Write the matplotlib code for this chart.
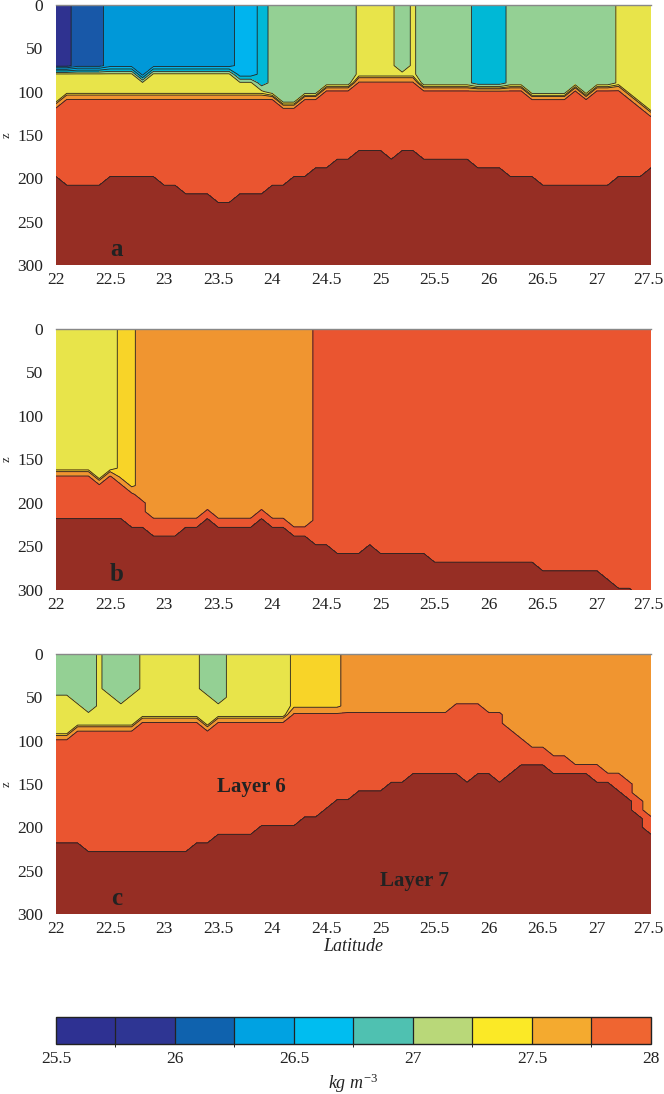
import numpy as np
import matplotlib
matplotlib.use('Agg')
import matplotlib.pyplot as plt
from matplotlib.colors import ListedColormap, BoundaryNorm
from matplotlib.colorbar import ColorbarBase

plt.rcParams['font.family'] = 'Liberation Serif'
plt.rcParams['mathtext.fontset'] = 'custom'
plt.rcParams['mathtext.rm'] = 'Liberation Serif'
plt.rcParams['mathtext.it'] = 'Liberation Serif:italic'

# density values of the water masses seen in the sections
DB, MB, BL, SK, TE = 25.9, 26.15, 26.4, 26.6, 26.85
GR, YE, GO, OR, RD, DR = 27.1, 27.3, 27.45, 27.6, 27.8, 28.05

lat = np.round(np.arange(22.0, 27.55, 0.1), 1)   # 56 columns
depth = np.arange(0, 301, 10)
xtick_labels = ['22', '22.5', '23', '23.5', '24', '24.5', '25', '25.5',
                '26', '26.5', '27', '27.5']

# panel a : top layer (s1 down to d1), second layer (s2 down to d2),
# layer 6 down to d3, layer 7 below
a_s1 = [DB, DB, MB, MB, MB, BL, BL, BL, BL, BL,
        BL, BL, BL, BL, BL, BL, BL, SK, SK, TE,
        GR, GR, GR, GR, GR, GR, GR, GR, YE, YE,
        YE, YE, GR, YE, GR, GR, GR, GR, GR, TE,
        TE, TE, GR, GR, GR, GR, GR, GR, GR, GR,
        GR, GR, YE, YE, YE, YE]
a_d1 = [70, 70, 70, 70, 70, 70, 70, 70, 80, 70,
        70, 70, 70, 70, 70, 70, 70, 80, 80, 90,
        100, 110, 110, 100, 100, 90, 90, 90, 80, 80,
        80, 80, 70, 80, 90, 90, 90, 90, 90, 90,
        90, 90, 90, 90, 100, 100, 100, 100, 90, 100,
        90, 90, 90, 100, 110, 120]
a_s2 = [YE, YE, YE, YE, YE, YE, YE, YE, YE, YE,
        YE, YE, YE, YE, YE, YE, YE, YE, YE, YE,
        GR, GR, GR, GR, GR, GR, GR, GR, YE, YE,
        YE, YE, YE, YE, GR, GR, GR, GR, GR, TE,
        TE, TE, GR, GR, GR, GR, GR, GR, GR, GR,
        GR, GR, YE, YE, YE, YE]
a_d2 = [110, 100, 100, 100, 100, 100, 100, 100, 100, 100,
        100, 100, 100, 100, 100, 100, 100, 100, 100, 100,
        100, 110, 110, 100, 100, 90, 90, 90, 80, 80,
        80, 80, 80, 80, 90, 90, 90, 90, 90, 90,
        90, 90, 90, 90, 100, 100, 100, 100, 90, 100,
        90, 90, 90, 100, 110, 120]
a_d3 = [190, 200, 200, 200, 200, 190, 190, 190, 190, 190,
        200, 200, 210, 210, 210, 220, 220, 210, 210, 210,
        200, 200, 190, 190, 180, 180, 170, 170, 160, 160,
        160, 170, 160, 160, 170, 170, 170, 170, 170, 180,
        180, 180, 190, 190, 190, 200, 200, 200, 200, 200,
        200, 200, 190, 190, 190, 180]

# panel b
b_s1 = [YE, YE, YE, YE, YE, YE, GO, GO, OR, OR,
        OR, OR, OR, OR, OR, OR, OR, OR, OR, OR,
        OR, OR, OR, OR, RD, RD, RD, RD, RD, RD,
        RD, RD, RD, RD, RD, RD, RD, RD, RD, RD,
        RD, RD, RD, RD, RD, RD, RD, RD, RD, RD,
        RD, RD, RD, RD, RD, RD]
b_d1 = [160, 160, 160, 160, 170, 160, 170, 180, 190, 210,
        210, 210, 210, 210, 200, 210, 210, 210, 210, 200,
        210, 210, 220, 220, 0, 0, 0, 0, 0, 0,
        0, 0, 0, 0, 0, 0, 0, 0, 0, 0,
        0, 0, 0, 0, 0, 0, 0, 0, 0, 0,
        0, 0, 0, 0, 0, 0]
b_s2 = b_s1
b_d2 = b_d1
b_d3 = [210, 210, 210, 210, 210, 210, 210, 220, 220, 230,
        230, 230, 220, 220, 210, 220, 220, 220, 220, 210,
        220, 220, 230, 230, 240, 240, 250, 250, 250, 240,
        250, 250, 250, 250, 250, 260, 260, 260, 260, 260,
        260, 260, 260, 260, 260, 270, 270, 270, 270, 270,
        270, 280, 290, 290, 300, 300]

# panel c
c_s1 = [GR, GR, GR, GR, YE, GR, GR, GR, YE, YE,
        YE, YE, YE, YE, GR, GR, YE, YE, YE, YE,
        YE, YE, GO, GO, GO, GO, GO, OR, OR, OR,
        OR, OR, OR, OR, OR, OR, OR, OR, OR, OR,
        OR, OR, OR, OR, OR, OR, OR, OR, OR, OR,
        OR, OR, OR, OR, OR, OR]
c_d1 = [40, 40, 50, 60, 80, 40, 50, 40, 70, 70,
        70, 70, 70, 70, 40, 50, 70, 70, 70, 70,
        70, 70, 60, 60, 60, 60, 60, 60, 60, 60,
        60, 60, 60, 60, 60, 60, 60, 50, 50, 50,
        60, 60, 80, 90, 100, 100, 110, 110, 120, 120,
        120, 130, 130, 140, 160, 180]
c_s2 = [YE, YE, YE, YE, YE, YE, YE, YE, YE, YE,
        YE, YE, YE, YE, YE, YE, YE, YE, YE, YE,
        YE, YE, GO, GO, GO, GO, GO, OR, OR, OR,
        OR, OR, OR, OR, OR, OR, OR, OR, OR, OR,
        OR, OR, OR, OR, OR, OR, OR, OR, OR, OR,
        OR, OR, OR, OR, OR, OR]
c_d2 = [90, 90, 80, 80, 80, 80, 80, 80, 70, 70,
        70, 70, 70, 70, 80, 70, 70, 70, 70, 70,
        70, 70, 60, 60, 60, 60, 60, 60, 60, 60,
        60, 60, 60, 60, 60, 60, 60, 50, 50, 50,
        60, 60, 80, 90, 100, 100, 110, 110, 120, 120,
        120, 130, 130, 140, 160, 180]
c_d3 = [210, 210, 210, 220, 220, 220, 220, 220, 220, 220,
        220, 220, 220, 210, 210, 200, 200, 200, 200, 190,
        190, 190, 190, 180, 180, 170, 160, 160, 150, 150,
        150, 140, 140, 130, 130, 130, 130, 130, 140, 130,
        130, 140, 130, 120, 120, 120, 130, 130, 130, 130,
        140, 140, 150, 160, 180, 200]

levels = [25.5, 25.75, 26.0, 26.25, 26.5, 26.75, 27.0, 27.25, 27.4, 27.5, 27.75, 28.0, 28.5]
fill_colors = ['#30318f', '#2f3290', '#1858a8', '#0098d8', '#00b4ee', '#00b8d6',
               '#94d094', '#e8e44a', '#f8d428', '#f09530', '#ea5530', '#962e24']

cb_bounds = [25.5, 25.75, 26.0, 26.25, 26.5, 26.75, 27.0, 27.25, 27.5, 27.75, 28.0]
cb_colors = ['#2e3192', '#2e3593', '#0f62ae', '#00a2e2', '#00bdf0', '#4fc1b1',
             '#b9d879', '#fbe926', '#f4aa2f', '#ef6531']


def section(s1, d1, s2, d2, d3):
    rho = np.zeros((len(depth), len(lat)))
    for j in range(len(lat)):
        for i, z in enumerate(depth):
            if z <= d1[j]:
                rho[i, j] = s1[j]
            elif z <= d2[j]:
                rho[i, j] = s2[j]
            elif z <= d3[j]:
                rho[i, j] = RD
            else:
                rho[i, j] = DR
    return rho


fig = plt.figure(figsize=(6.64, 10.94), dpi=100)
boxes = [[0.0843, 0.7578, 0.8961, 0.2377],
         [0.0843, 0.4607, 0.8961, 0.2386],
         [0.0843, 0.1645, 0.8961, 0.2377]]
panels = [(a_s1, a_d1, a_s2, a_d2, a_d3, 'a'),
          (b_s1, b_d1, b_s2, b_d2, b_d3, 'b'),
          (c_s1, c_d1, c_s2, c_d2, c_d3, 'c')]

xt = np.arange(22, 27.51, 0.5)
for box, (s1, d1, s2, d2, d3, tag) in zip(boxes, panels):
    ax = fig.add_axes(box)
    rho = section(s1, d1, s2, d2, d3)
    ax.contourf(lat, depth, rho, levels=levels, colors=fill_colors)
    ax.contour(lat, depth, rho, levels=levels[1:-1], colors='#222222', linewidths=0.6)
    ax.set_xlim(22, 27.5)
    ax.set_ylim(300, 0)
    ax.set_xticks(xt)
    # last label is drawn by hand, nudged so it stays inside the figure
    ax.set_xticklabels(xtick_labels[:-1] + [''])
    ax.annotate(xtick_labels[-1], xy=(xt[-1], 0), xycoords=('data', 'axes fraction'),
                xytext=(-2, -5), textcoords='offset points', ha='center', va='top',
                fontsize=12.5, color='#222222')
    ax.set_yticks(np.arange(0, 301, 50))
    ax.tick_params(axis='both', length=0, labelsize=12.5, colors='#222222')
    ax.tick_params(axis='y', pad=9)
    ax.tick_params(axis='x', pad=5)
    for side in ['left', 'right', 'bottom']:
        ax.spines[side].set_visible(False)
    ax.spines['top'].set_color('#888888')
    ax.spines['top'].set_linewidth(1.0)
    ax.text(22.56, 290, tag, fontsize=18, fontweight='bold', ha='center',
            va='baseline', color='#222222')
    fig.text(6.5 / 664, box[1] + box[3] / 2, 'z', rotation=90, fontsize=9,
             ha='center', va='center', color='#222222')
    if tag == 'c':
        ax.text(23.81, 159, 'Layer 6', fontsize=15, fontweight='bold',
                ha='center', va='baseline', color='#222222')
        ax.text(25.31, 268, 'Layer 7', fontsize=15, fontweight='bold',
                ha='center', va='baseline', color='#222222')
        ax.set_xlabel('Latitude', fontsize=13, style='italic', labelpad=1,
                      color='#222222')

cax = fig.add_axes([0.0843, 1 - 1044 / 1094, 0.8961, 27 / 1094])
cb = ColorbarBase(cax, cmap=ListedColormap(cb_colors),
                  norm=BoundaryNorm(cb_bounds, len(cb_colors)),
                  orientation='horizontal', drawedges=True,
                  ticks=[25.5, 26.0, 26.5, 27.0, 27.5, 28.0])
cb.set_ticklabels(['25.5', '26', '26.5', '27', '27.5', '28'])
cb.dividers.set_color('#222222')
cb.dividers.set_linewidth(0.9)
cb.outline.set_edgecolor('#222222')
cb.outline.set_linewidth(1.0)
cax.tick_params(length=0, labelsize=12.5, pad=5, colors='#222222')
cb.set_label(r'$kg\ m^{-3}$', fontsize=13, labelpad=3, color='#222222')

fig.savefig('out.png', dpi=100)
